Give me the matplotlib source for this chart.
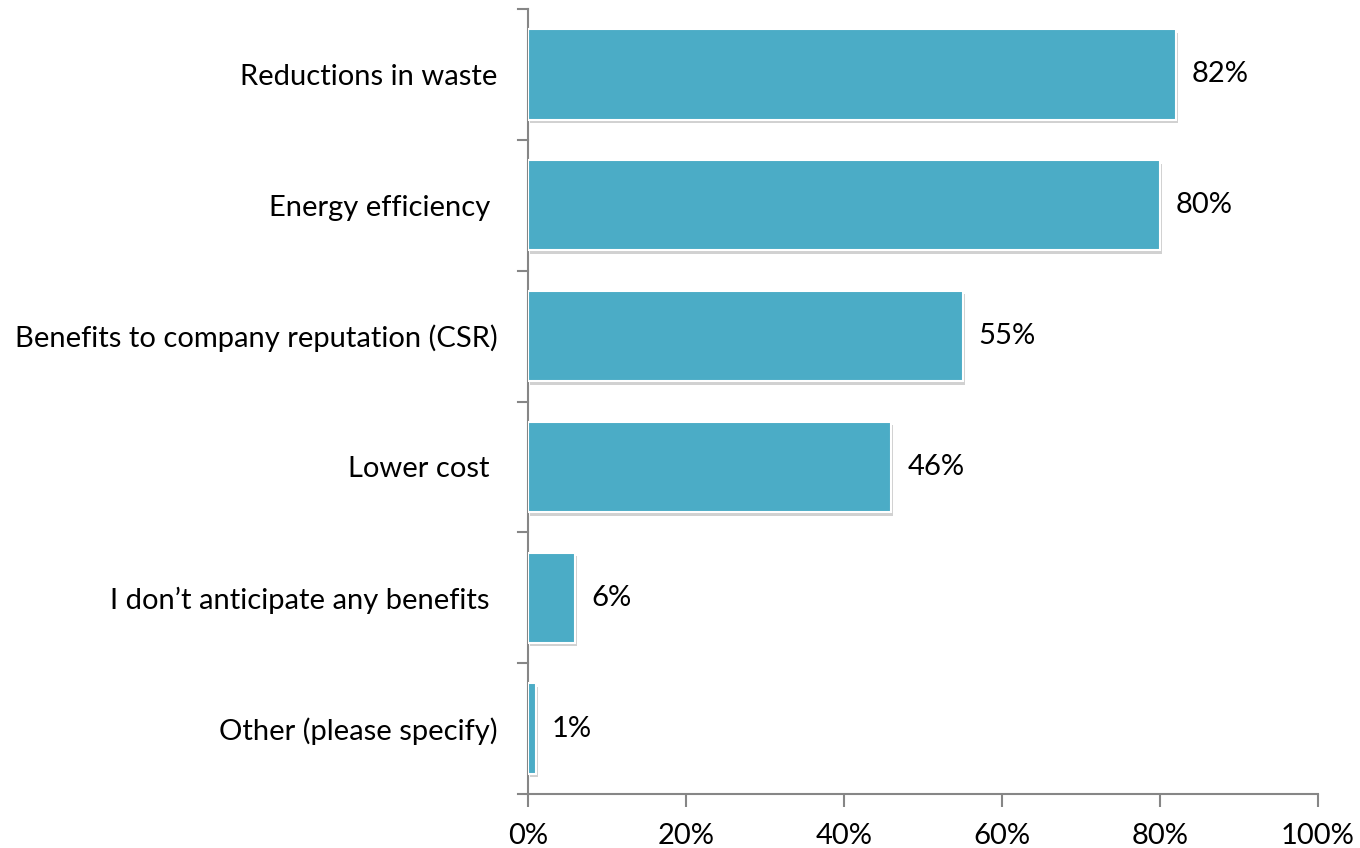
import matplotlib
matplotlib.use("Agg")
import matplotlib.pyplot as plt
import matplotlib.patheffects as pe

categories = [
    "Reductions in waste",
    "Energy efficiency ",
    "Benefits to company reputation (CSR)",
    "Lower cost ",
    "I don\u2019t anticipate any benefits ",
    "Other (please specify)",
]
values = [82, 80, 55, 46, 6, 1]
xticks = [0, 20, 40, 60, 80, 100]
xtick_labels = ["0%", "20%", "40%", "60%", "80%", "100%"]

plt.rcParams["font.family"] = ["Lato", "DejaVu Sans"]
FS = 21

fig = plt.figure(figsize=(13.6, 8.48), dpi=100)
ax = fig.add_axes([528 / 1360, 1 - 794 / 848, 790 / 1360, 785 / 848])

n = len(categories)
ypos = list(range(n))
bars = ax.barh(ypos, values, height=0.69, color="#4BACC6",
               edgecolor="white", linewidth=1.5, zorder=3)
for b in bars:
    b.set_path_effects([pe.SimplePatchShadow(offset=(1.5, -2.5), shadow_rgbFace="#8c8c8c", alpha=0.4),
                        pe.Normal()])

for y, v in zip(ypos, values):
    ax.text(v + 2.0, y, f"{v}%", va="center", ha="left", fontsize=FS, color="black")

ax.set_xlim(0, 100)
ax.set_ylim(n - 0.5, -0.5)
ax.set_xticks(xticks)
ax.set_xticklabels(xtick_labels, fontsize=FS)
ax.set_yticks(ypos)
ax.set_yticklabels(categories, fontsize=FS)

# Category separators as tick marks on the vertical axis
ax.tick_params(axis="y", length=0, pad=22)
for b in [i - 0.5 for i in range(n + 1)]:
    ax.plot([-1.3, 0], [b, b], color="#868686", lw=1.5, clip_on=False, zorder=5)

ax.tick_params(axis="x", length=9, width=1.5, color="#868686", pad=12, direction="out")

for s in ["top", "right"]:
    ax.spines[s].set_visible(False)
for s in ["left", "bottom"]:
    ax.spines[s].set_color("#868686")
    ax.spines[s].set_linewidth(1.5)

fig.savefig("out.png", dpi=100)
